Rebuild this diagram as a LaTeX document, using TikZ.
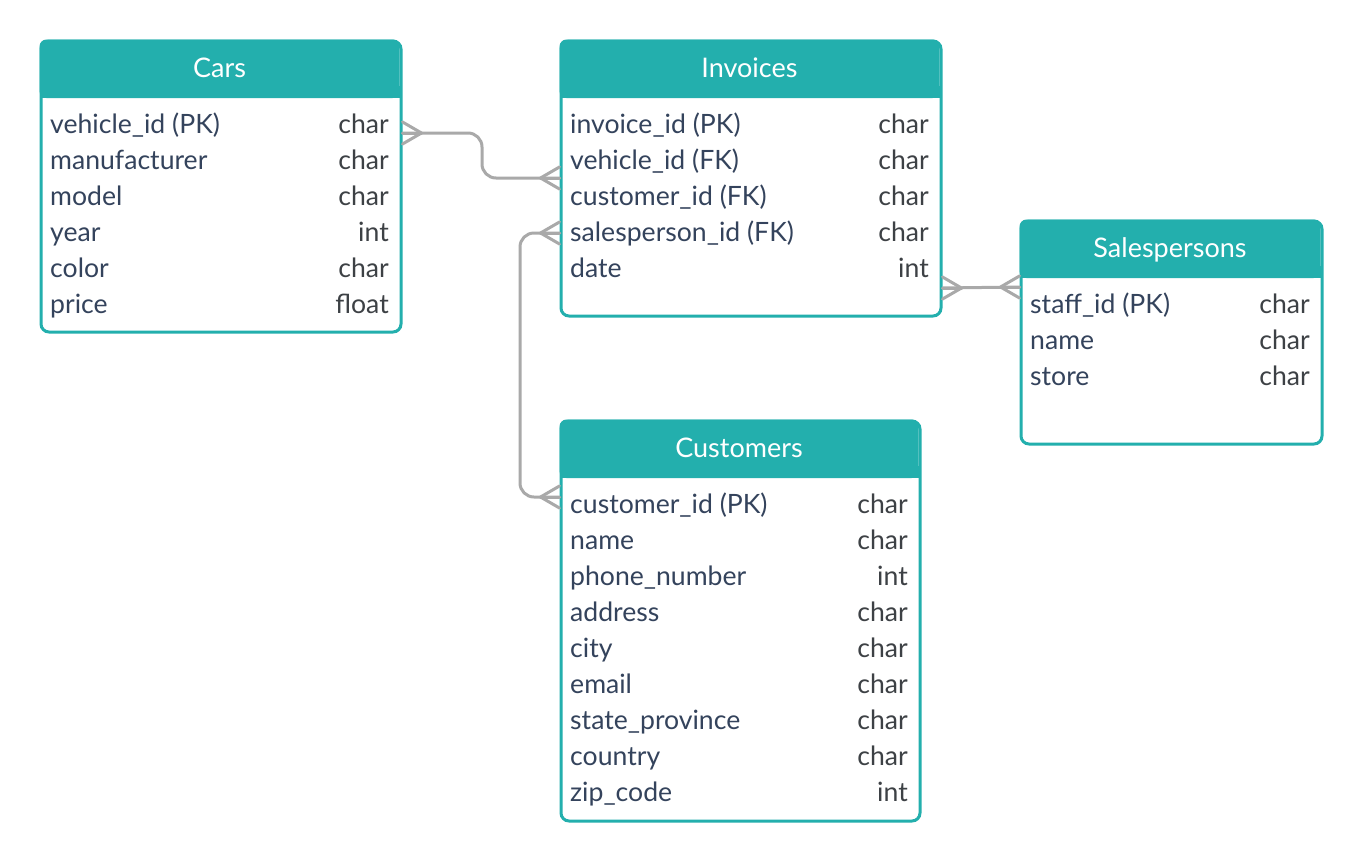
\documentclass[tikz,border=0pt]{standalone}
\usepackage{fontspec}
\setmainfont{Lato}
\definecolor{erteal}{HTML}{23AFAD}
\definecolor{ergray}{HTML}{A9A9A9}
\definecolor{ername}{HTML}{34435C}
\definecolor{ertype}{HTML}{3D4145}
\tikzset{
  tbox/.style={draw=erteal, line width=3pt, rounded corners=8pt, fill=none, inner sep=0pt},
  hdr/.style={fill=erteal},
  ttl/.style={anchor=base, inner sep=0pt, text=white, font=\fontsize{27}{32}\selectfont},
  rn/.style={anchor=base west, inner sep=0pt, text=ername, font=\fontsize{26.6}{30}\selectfont},
  rt/.style={anchor=base east, inner sep=0pt, text=ertype, font=\fontsize{26.6}{30}\selectfont},
  conn/.style={draw=ergray, line width=3pt, line join=round, line cap=round},
  crow/.pic={\draw[conn] (0,-11) -- (19,0) -- (0,11); \draw[conn] (0,0) -- (19,0);}
}
\newcommand\ertable[8]{%
  \fill[hdr, rounded corners=7pt] (#2,#3) rectangle (#4,#6);
  \fill[hdr] (#2,{#6-12}) rectangle (#4,#6);
  \node[tbox, minimum width={#4-#2}, minimum height={#5-#3}, anchor=north west] (#1) at (#2,#3) {};
  \node[ttl] (#1-title) at ({(#2+#4)/2},{#3+37.5}) {#7};
  \foreach \a/\b [count=\i] in {#8} {
    \node[rn] (#1-n\i) at ({#2+10.5},{#6+35+36*(\i-1)}) {\a};
    \node[rt] (#1-t\i) at ({#4-10.5},{#6+35+36*(\i-1)}) {\b};
  }
}
\begin{document}
\begin{tikzpicture}[x=1pt,y=-1pt]
\useasboundingbox[fill=white] (0,0) rectangle (1360,860);
\ertable{cars}{39.5}{39.5}{399.5}{330.5}{98}{Cars}{vehicle\_id (PK)/char, manufacturer/char, model/char, year/int, color/char, price/float}
\ertable{inv}{559.5}{39.5}{939.5}{314.5}{98}{Invoices}{invoice\_id (PK)/char, vehicle\_id (FK)/char, customer\_id (FK)/char, salesperson\_id (FK)/char, date/int}
\ertable{sales}{1019.5}{219.5}{1320.5}{442.5}{278}{Salespersons}{staff\_id (PK)/char, name/char, store/char}
\ertable{cust}{559.5}{419.5}{918.5}{819.5}{478}{Customers}{customer\_id (PK)/char, name/char, phone\_number/int, address/char, city/char, email/char, state\_province/char, country/char, zip\_code/int}

% connector end points on the table edges
\coordinate (c1s) at (cars.east |- 0,133);
\coordinate (c1e) at (inv.west |- 0,178);
\coordinate (c2s) at (inv.west |- 0,233);
\coordinate (c2e) at (cust.west |- 0,497);
\coordinate (c3s) at (inv.east |- 0,288);
\coordinate (c3e) at (sales.west |- 0,287);

\draw[conn, rounded corners=14pt] (c1s) -- (482,133) -- (482,178) -- (c1e);
\draw[conn, rounded corners=14pt] (c2s) -- (520,233) -- (520,497) -- (c2e);
\draw[conn] (c3s) -- (c3e);

\pic at (c1s) {crow};
\pic[rotate=180] at (c1e) {crow};
\pic[rotate=180] at (c2s) {crow};
\pic[rotate=180] at (c2e) {crow};
\pic at (c3s) {crow};
\pic[rotate=180] at (c3e) {crow};
\end{tikzpicture}
\end{document}
